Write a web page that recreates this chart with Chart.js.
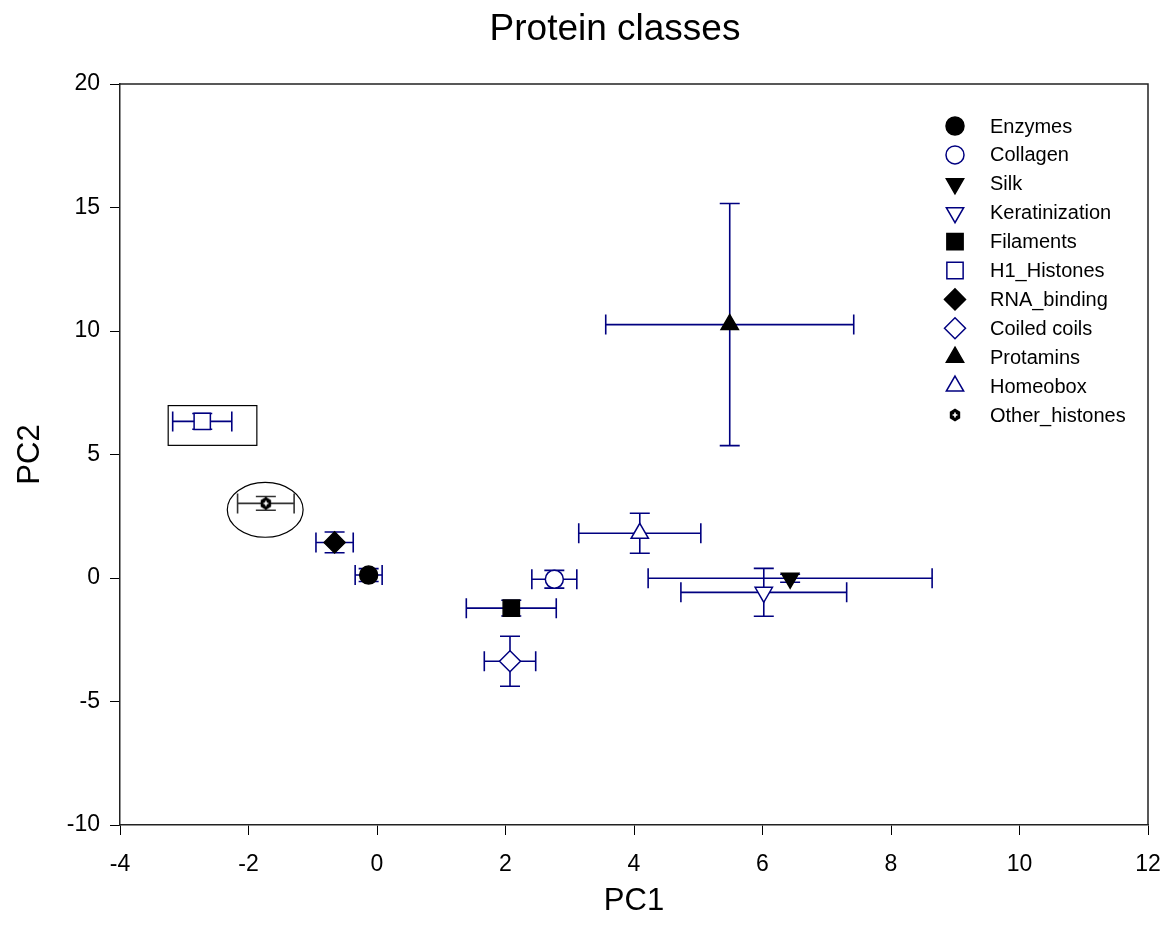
<!DOCTYPE html>
<html>
<head>
<meta charset="utf-8">
<script src="https://cdn.jsdelivr.net/npm/chart.js@4/dist/chart.umd.min.js"></script>
<style>
  html, body { margin: 0; padding: 0; background: #fff; }
  #wrap { width: 1168px; height: 937px; }
</style>
</head>
<body>
<div id="wrap"><canvas id="chart" width="1168" height="937"></canvas></div>
<script>
// values
var classes = ['Enzymes', 'Collagen', 'Silk', 'Keratinization', 'Filaments', 'H1_Histones',
               'RNA_binding', 'Coiled coils', 'Protamins', 'Homeobox', 'Other_histones'];
var pc1    = [-0.13, 2.76, 6.43, 6.02, 2.09, -2.72, -0.66, 2.07, 5.49, 4.09, -1.73];
var pc2    = [0.12, -0.05, -0.01, -0.58, -1.22, 6.34, 1.44, -3.37, 10.26, 1.81, 3.02];
var pc1Err = [0.21, 0.35, 2.21, 1.29, 0.70, 0.46, 0.29, 0.40, 1.93, 0.95, 0.44];
var pc2Err = [0.26, 0.36, 0.16, 0.97, 0.32, 0.32, 0.42, 1.01, 4.90, 0.81, 0.28];

var xTicks = { min: -4, max: 12, step: 2 };
var yTicks = { min: -10, max: 20, step: 5 };

// annotations (data units): box round H1_Histones, ellipse round Other_histones
var boxX = [-3.25, -1.87], boxY = [5.37, 6.98];
var ellipseC = [-1.74, 2.76], ellipseR = [0.59, 1.11];

var navy = '#000080';
var FONT = 'Arial, "Liberation Sans", sans-serif';

// small black octagon with a white cross for Other_histones
function makeHex() {
  var c = document.createElement('canvas');
  c.width = 14; c.height = 14;
  var g = c.getContext('2d');
  g.fillStyle = '#000';
  g.beginPath();
  for (var i = 0; i < 6; i++) {
    var a = Math.PI / 6 + i * Math.PI / 3;
    var px = 7 + 6 * Math.cos(a), py = 7 + 6.5 * Math.sin(a);
    if (i == 0) g.moveTo(px, py); else g.lineTo(px, py);
  }
  g.closePath();
  g.fill();
  g.strokeStyle = '#fff';
  g.lineWidth = 1.6;
  g.beginPath();
  g.moveTo(7, 4.6); g.lineTo(7, 9.4);
  g.moveTo(4.6, 7); g.lineTo(9.4, 7);
  g.stroke();
  return c;
}
var hexImg = makeHex();

var styles = [
  { ps: 'circle',   r: 9,   rot: 0,   fill: true },
  { ps: 'circle',   r: 9,   rot: 0,   fill: false },
  { ps: 'triangle', r: 10,  rot: 180, fill: true },
  { ps: 'triangle', r: 10,  rot: 180, fill: false },
  { ps: 'rect',     r: 11.5, rot: 0,  fill: true },
  { ps: 'rect',     r: 11.5, rot: 0,  fill: false },
  { ps: 'rectRot',  r: 10.5, rot: 0,  fill: true },
  { ps: 'rectRot',  r: 10.5, rot: 0,  fill: false },
  { ps: 'triangle', r: 10,  rot: 0,   fill: true },
  { ps: 'triangle', r: 10,  rot: 0,   fill: false },
  { ps: hexImg,     r: 7,   rot: 0,   fill: true }
];

var datasets = classes.map(function(name, i) {
  var s = styles[i];
  return {
    label: name,
    data: [{ x: pc1[i], y: pc2[i] }],
    xErr: pc1Err[i],
    yErr: pc2Err[i],
    barColor: i == 10 ? '#333' : navy,
    pointStyle: s.ps,
    pointRadius: s.r,
    pointRotation: s.rot,
    backgroundColor: s.fill ? '#000' : '#fff',
    borderColor: i == 10 ? '#000' : (s.fill ? '#000' : navy),
    borderWidth: 1.5,
    showLine: false
  };
});

// error bars behind the markers
var errorBars = {
  id: 'errorBars',
  beforeDatasetsDraw: function(chart) {
    var ctx = chart.ctx, xs = chart.scales.x, ys = chart.scales.y;
    var cap = 10;
    ctx.save();
    ctx.lineWidth = 1.6;
    chart.data.datasets.forEach(function(ds) {
      var p = ds.data[0];
      var cx = xs.getPixelForValue(p.x), cy = ys.getPixelForValue(p.y);
      var x0 = xs.getPixelForValue(p.x - ds.xErr), x1 = xs.getPixelForValue(p.x + ds.xErr);
      var y0 = ys.getPixelForValue(p.y - ds.yErr), y1 = ys.getPixelForValue(p.y + ds.yErr);
      ctx.strokeStyle = ds.barColor;
      ctx.beginPath();
      ctx.moveTo(x0, cy); ctx.lineTo(x1, cy);
      ctx.moveTo(x0, cy - cap); ctx.lineTo(x0, cy + cap);
      ctx.moveTo(x1, cy - cap); ctx.lineTo(x1, cy + cap);
      ctx.moveTo(cx, y0); ctx.lineTo(cx, y1);
      ctx.moveTo(cx - cap, y0); ctx.lineTo(cx + cap, y0);
      ctx.moveTo(cx - cap, y1); ctx.lineTo(cx + cap, y1);
      ctx.stroke();
    });
    ctx.restore();
  }
};

// box, ellipse, frame, title and legend
var extras = {
  id: 'extras',
  afterDraw: function(chart) {
    var ctx = chart.ctx, xs = chart.scales.x, ys = chart.scales.y, a = chart.chartArea;
    ctx.save();
    ctx.strokeStyle = '#000';
    ctx.lineWidth = 1.2;
    var bx0 = xs.getPixelForValue(boxX[0]), bx1 = xs.getPixelForValue(boxX[1]);
    var by0 = ys.getPixelForValue(boxY[1]), by1 = ys.getPixelForValue(boxY[0]);
    ctx.strokeRect(bx0, by0, bx1 - bx0, by1 - by0);

    var ex = xs.getPixelForValue(ellipseC[0]), ey = ys.getPixelForValue(ellipseC[1]);
    var erx = xs.getPixelForValue(ellipseC[0] + ellipseR[0]) - ex;
    var ery = ey - ys.getPixelForValue(ellipseC[1] + ellipseR[1]);
    ctx.beginPath();
    ctx.ellipse(ex, ey, erx, ery, 0, 0, Math.PI * 2);
    ctx.stroke();

    // top and right frame
    ctx.strokeStyle = '#222';
    ctx.lineWidth = 1.5;
    ctx.beginPath();
    ctx.moveTo(a.left, a.top); ctx.lineTo(a.right, a.top); ctx.lineTo(a.right, a.bottom);
    ctx.stroke();

    ctx.fillStyle = '#000';
    ctx.font = '37px ' + FONT;
    ctx.textAlign = 'center';
    ctx.textBaseline = 'middle';
    ctx.fillText('Protein classes', 615, 30);

    // legend
    ctx.font = '20px ' + FONT;
    ctx.textAlign = 'left';
    chart.data.datasets.forEach(function(ds, i) {
      var ly = 126 + i * 28.9;
      ctx.fillStyle = ds.backgroundColor;
      ctx.strokeStyle = ds.borderColor;
      ctx.lineWidth = ds.borderWidth;
      Chart.helpers.drawPoint(ctx, {
        pointStyle: ds.pointStyle, radius: ds.pointRadius,
        rotation: ds.pointRotation, borderWidth: ds.borderWidth
      }, 955, ly);
      ctx.fillStyle = '#000';
      ctx.fillText(ds.label, 990, ly + 1);
    });
    ctx.restore();
  }
};

var tickFont = { family: FONT, size: 23 };

new Chart(document.getElementById('chart'), {
  type: 'scatter',
  data: { datasets: datasets },
  options: {
    responsive: false,
    animation: false,
    devicePixelRatio: 1,
    layout: { padding: { top: 84, right: 20, bottom: 0, left: 0 } },
    plugins: { legend: { display: false }, tooltip: { enabled: false } },
    scales: {
      x: {
        type: 'linear', min: xTicks.min, max: xTicks.max,
        ticks: { stepSize: xTicks.step, font: tickFont, color: '#000', padding: 16, maxRotation: 0 },
        grid: { drawOnChartArea: false, tickLength: 10, color: '#000' },
        border: { color: '#222', width: 1.5 },
        title: { display: true, text: 'PC1', color: '#000', font: { family: FONT, size: 31 }, padding: { top: 0, bottom: 17 } },
        afterFit: function(s) { s.height = 112; s.paddingLeft = 0; s.paddingRight = 0; }
      },
      y: {
        type: 'linear', min: yTicks.min, max: yTicks.max,
        ticks: { stepSize: yTicks.step, font: tickFont, color: '#000', padding: 10 },
        grid: { drawOnChartArea: false, tickLength: 10, color: '#000' },
        border: { color: '#222', width: 1.5 },
        title: { display: true, text: 'PC2', color: '#000', font: { family: FONT, size: 31 }, padding: { top: 12, bottom: 0 } },
        afterFit: function(s) { s.width = 120; s.paddingTop = 0; s.paddingBottom = 0; }
      }
    }
  },
  plugins: [errorBars, extras]
});
</script>
</body>
</html>
